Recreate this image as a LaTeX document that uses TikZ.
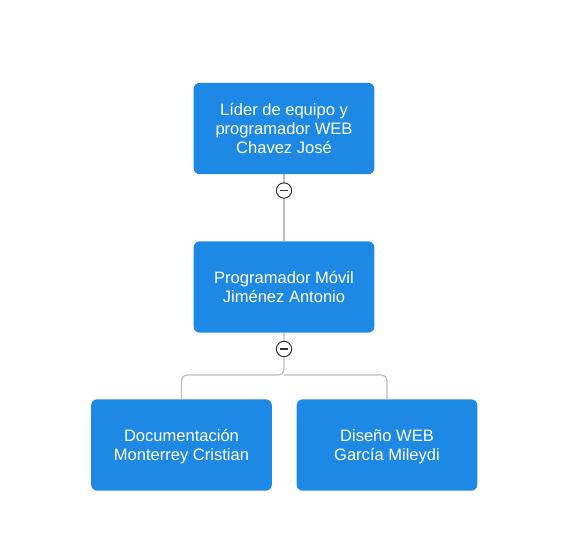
\documentclass[tikz,border=0pt]{standalone}
\usepackage{fontspec}
\setmainfont{Liberation Sans}
\definecolor{boxblue}{HTML}{1E88E5}
\definecolor{linegray}{HTML}{BDBDBD}
\definecolor{btngray}{HTML}{333333}
\begin{document}
\begin{tikzpicture}[x=0.75pt,y=-0.75pt,
  card/.style={draw=none,fill=boxblue,rounded corners=4.5pt,minimum width=135.5pt,minimum height=68.5pt,
    text=white,align=center,font=\fontsize{12.4pt}{14.3pt}\selectfont,inner sep=0pt,text depth=-1.2pt},
  link/.style={draw=linegray,line width=0.9pt},
  toggle/.style={circle,draw=btngray,fill=white,line width=0.75pt,minimum size=11.5pt,inner sep=0pt}]
\useasboundingbox (0,0) rectangle (571,551);
\node[card] (lead) at (284,128.5) {Líder de equipo y\\programador WEB\\Chavez José};
\node[card] (mov) at (284,287) {Programador Móvil\\Jiménez Antonio};
\node[card] (doc) at (181.5,445) {Documentación\\Monterrey Cristian};
\node[card] (dis) at (387,445) {Diseño WEB\\García Mileydi};
\coordinate (bus) at (284,375);
\draw[link] (lead.south) -- (mov.north);
\draw[link,rounded corners=4pt] (mov.south) -- (bus) -| (doc.north);
\draw[link,rounded corners=4pt] (bus) -| (dis.north);
\node[toggle] (t1) at (284,190.5) {};
\node[toggle] (t2) at (284,349) {};
\foreach \t in {t1,t2}{\draw[btngray,line width=1.1pt] ([xshift=-3pt]\t.center) -- ([xshift=3pt]\t.center);}
\end{tikzpicture}
\end{document}
